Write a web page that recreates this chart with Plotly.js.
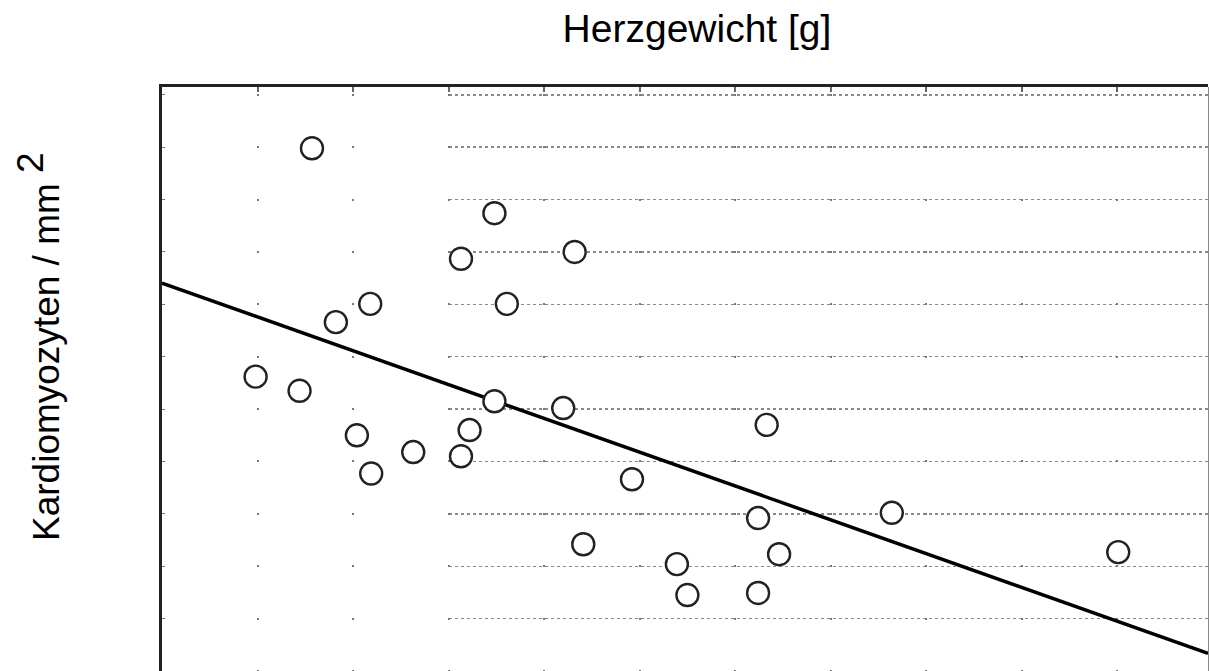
<!DOCTYPE html>
<html>
<head>
<meta charset="utf-8">
<script src="https://cdn.plot.ly/plotly-3.0.1.min.js"></script>
<style>
  html, body { margin: 0; padding: 0; background: #fff; overflow: hidden; }
  #chart { width: 1209px; height: 671px; }
</style>
</head>
<body>
<div id="chart"></div>
<script>
// Heart weight (x, in grid units) and cardiomyocyte density (y, in grid units)
const heartWeight = [1.57, 3.48, 3.13, 4.32, 2.18, 3.61, 1.82, 0.98, 1.44, 3.48, 4.20, 2.04, 3.22,
                     2.63, 3.13, 2.19, 6.33, 4.92, 6.24, 7.64, 4.41, 6.46, 5.39, 5.50, 6.24, 10.01];
const cardioDensity = [9.98, 8.74, 7.87, 8.00, 7.01, 7.01, 6.66, 5.62, 5.35, 5.15, 5.02, 4.50, 4.60,
                       4.18, 4.10, 3.77, 4.70, 3.66, 2.92, 3.02, 2.42, 2.23, 2.04, 1.45, 1.49, 2.27];

const titleText = 'Herzgewicht [g]';
const yTitleText = "Kardiomyozyten / mm <sup><span style='font-size:37px'>2</span></sup>";

const xRange = [0, 10.95];
const yRange = [0, 11.15];

// least-squares regression line computed from the data
const n = heartWeight.length;
const mx = heartWeight.reduce((a, b) => a + b, 0) / n;
const my = cardioDensity.reduce((a, b) => a + b, 0) / n;
let sxy = 0, sxx = 0;
for (let i = 0; i < n; i++) {
  sxy += (heartWeight[i] - mx) * (cardioDensity[i] - my);
  sxx += (heartWeight[i] - mx) * (heartWeight[i] - mx);
}
const slope = sxy / sxx;
const intercept = my - slope * mx;
const fitX = [xRange[0], xRange[1]];
const fitY = fitX.map(v => intercept + slope * v);

const font = 'Liberation Sans, Arial, sans-serif';
const gridDash = '0px,6.8px,2px,43.58px';

const traces = [
  // empty trace so the horizontal-grid subplot exists
  { x: [], y: [], xaxis: 'x', yaxis: 'y', type: 'scatter', mode: 'markers',
    showlegend: false, hoverinfo: 'skip' },
  { x: fitX, y: fitY, xaxis: 'x2', yaxis: 'y2', type: 'scatter', mode: 'lines',
    line: { color: '#000', width: 3.5 }, showlegend: false, hoverinfo: 'skip' },
  { x: heartWeight, y: cardioDensity, xaxis: 'x2', yaxis: 'y2', type: 'scatter', mode: 'markers',
    marker: { symbol: 'circle', size: 22, color: '#fff', line: { color: '#222', width: 2.4 } },
    showlegend: false, cliponaxis: false }
];

const layout = {
  width: 1209, height: 671,
  margin: { l: 162, r: 1, t: 87, b: 0 },
  paper_bgcolor: '#fff',
  plot_bgcolor: 'rgba(0,0,0,0)',
  font: { family: font, color: '#000' },
  title: {
    text: titleText, font: { family: font, size: 39, color: '#000' },
    xref: 'container', yref: 'container', x: 0.5765, xanchor: 'center',
    y: 1 - 28.7 / 671, yanchor: 'middle'
  },
  annotations: [{
    text: yTitleText, textangle: -90, showarrow: false,
    xref: 'paper', yref: 'paper', x: (38 - 162) / 1046, y: (671 - 347) / 584,
    xanchor: 'center', yanchor: 'middle',
    font: { family: font, size: 37, color: '#000' }
  }],
  // grid-only subplot: horizontal dotted gridlines on the right part, and the right border
  xaxis: {
    domain: [3 / 10.95, 1], range: [3, xRange[1]], anchor: 'y',
    showgrid: false, zeroline: false, showline: false, showticklabels: false, ticks: ''
  },
  yaxis: {
    domain: [0, 1], range: yRange, anchor: 'x', side: 'right',
    showgrid: true, gridcolor: '#8a8a8a', gridwidth: 1.5, griddash: 'dot', dtick: 1, tick0: 0,
    zeroline: false, showline: true, linecolor: '#888', linewidth: 2,
    showticklabels: false, ticks: ''
  },
  // main data subplot
  xaxis2: {
    domain: [0, 1], range: xRange, anchor: 'y2', side: 'top',
    showgrid: true, gridcolor: '#777', gridwidth: 2, griddash: gridDash, dtick: 1, tick0: 0,
    zeroline: false, showline: true, linecolor: '#222', linewidth: 3,
    showticklabels: false, ticks: 'inside', ticklen: 5, tickcolor: '#666', tickwidth: 2
  },
  yaxis2: {
    domain: [0, 1], range: yRange, anchor: 'x2', side: 'left',
    showgrid: false, zeroline: false, showline: true, linecolor: '#222', linewidth: 3,
    showticklabels: false, ticks: 'inside', ticklen: 3, tickcolor: '#777', dtick: 1, tick0: 0
  }
};

Plotly.newPlot('chart', traces, layout, { staticPlot: true, displayModeBar: false });
</script>
</body>
</html>
